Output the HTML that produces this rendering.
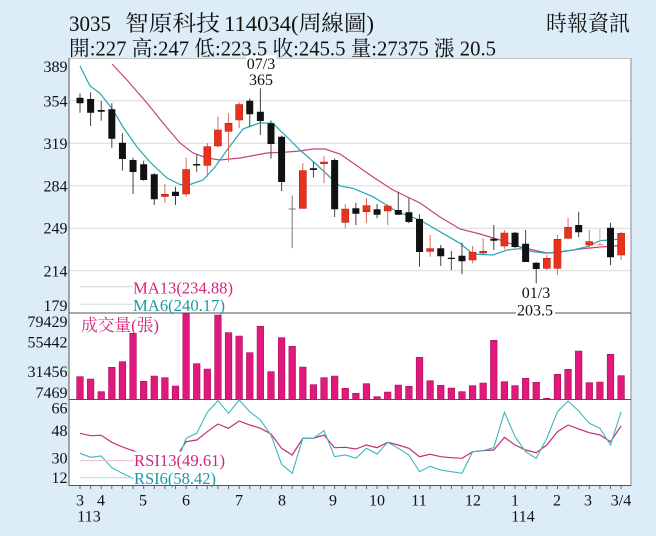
<!DOCTYPE html>
<html><head><meta charset="utf-8"><style>
html,body{margin:0;padding:0;background:#dcedf8;}
svg{display:block;}
text{font-family:"Liberation Serif","Noto Serif CJK TC","Noto Serif CJK SC",serif;}
</style></head><body>
<svg width="656" height="536" viewBox="0 0 656 536" xmlns="http://www.w3.org/2000/svg">
<rect x="0" y="0" width="656" height="536" fill="#dcedf8"/>
<rect x="69" y="58" width="562" height="427.5" fill="#ffffff"/>
<path d="M69 100.7H631M69 143.2H631M69 185.7H631M69 228.2H631M69 270.7H631" stroke="#dadada" fill="none"/>
<path d="M69 58.5H631" stroke="#c8c8c8"/>
<path d="M631 58V486" stroke="#8a8a8a"/>
<path d="M69 313H631M69 399.5H631M69 485.5H631M69 58V486" stroke="#555" fill="none"/>
<path stroke="#666" fill="none" d="M80 486v3M90.6 486v3M101.2 486v3M111.8 486v3M122.4 486v3M133 486v3M143.7 486v3M154.3 486v3M164.9 486v3M175.5 486v3M186.1 486v3M196.7 486v3M207.3 486v3M217.9 486v3M228.5 486v3M239.2 486v3M249.8 486v3M260.4 486v3M271 486v3M281.6 486v3M292.2 486v3M302.8 486v3M313.4 486v3M324 486v3M334.6 486v3M345.3 486v3M355.9 486v3M366.5 486v3M377.1 486v3M387.7 486v3M398.3 486v3M408.9 486v3M419.5 486v3M430.1 486v3M440.7 486v3M451.4 486v3M462 486v3M472.6 486v3M483.2 486v3M493.8 486v3M504.4 486v3M515 486v3M525.6 486v3M536.2 486v3M546.8 486v3M557.5 486v3M568.1 486v3M578.7 486v3M589.3 486v3M599.9 486v3M610.5 486v3M621.1 486v3"/>

<polyline fill="none" stroke="#c8427c" stroke-width="1.2" points="112,64 127,80 147,103 163,123 180,143 193,153 207,158 220,160 240,158 267,153 287,152 300,151 313,149 325,149 340,154 353,163 373,177 393,190 420,203 440,217 460,229 480,234 500,240 520,247 533,250 547,253 560,252 580,249 600,247 621,245.5"/>
<polyline fill="none" stroke="#22a8b0" stroke-width="1.2" points="80,66 90,86 100,93.3 113,110 123,127 137,147 150,162 167,178 180,184.5 190,184.5 203,180 215,167 227,150 243,129 260,122.7 273,123.5 287,137 300,150 317,165 333,180 340,186 353,188.3 373,196.7 397,211.7 420,220 440,231.7 460,243.3 473,254 493,255 507,250 520,248.7 533,251.7 547,253.3 560,251.7 573,250 587,246.7 600,240.7 621,239"/>

<!-- black candle wicks -->
<path stroke="#444" fill="none" d="M80 93.3V112.7M90.61 92.3V126M101.22 101V120.7M111.83 103.3V147.7M122.44 133.3V170.7M133.05 157.7V194M143.66 160.7V180.7M154.27 173.3V205M175.49 186.7V205M196.71 155V171.7M249.76 98.5V127M260.37 88.3V135M270.98 120.5V158.5M281.59 135.5V191M313.42 162V177.5M334.64 158.5V217M355.86 202.7V225M377.08 204V218.3M398.3 191.7V215M408.91 198.3V223.3M419.52 214.3V266.7M440.74 245V266M451.35 251V270M461.96 242.7V274.3M493.79 225V250M515.01 231.7V248.3M525.62 230V262M536.23 262.3V283.3M578.67 211.7V237.3M610.5 222.7V265"/>
<!-- black bodies -->
<path fill="#111" d="M76.5 97.7h7v5.6h-7zM87.11 99h7v13.7h-7zM97.72 110h7v1.7h-7zM108.33 109.3h7v29.4h-7zM118.94 142.7h7v16.3h-7zM129.55 160h7v12h-7zM140.16 164.3h7v15.7h-7zM150.77 174.3h7v25h-7zM171.99 191.7h7v4.3h-7zM193.21 164h7v1.5h-7zM246.26 100.7h7v13.6h-7zM256.87 111.7h7v9.3h-7zM267.48 123.3h7v20.7h-7zM278.09 136.7h7v45.3h-7zM309.92 168.3h7v1.7h-7zM331.14 160h7v49.3h-7zM352.36 208.3h7v5.4h-7zM373.58 209.3h7v5.4h-7zM394.8 210h7v4.7h-7zM405.41 212.3h7v9.7h-7zM416.02 219h7v33h-7zM437.24 248.3h7v8h-7zM447.85 257.7h7v1.3h-7zM458.46 255.7h7v5.6h-7zM490.29 238.7h7v2h-7zM511.51 232.7h7v14.3h-7zM522.12 243.7h7v18.3h-7zM532.73 262.7h7v6.3h-7zM575.17 225h7v7.3h-7zM607 227.7h7v29.6h-7z"/>
<!-- red candle wicks -->
<path stroke="#e06a60" fill="none" d="M164.88 184V203M186.1 157.7V196.7M207.32 143V176.7M217.93 116.7V147.5M228.54 113.3V161.7M239.15 102V128.3M302.81 163.3V208.3M324.03 156.3V183.3M345.25 204V228.3M366.47 198.3V222.7M387.69 204.3V225M430.13 235V256.7M472.57 246V263.3M483.18 238.3V254M504.4 230V249.3M546.84 255V270M557.45 235V275M568.06 217.7V239M589.28 230V249M621.11 231.7V260"/>
<!-- red bodies -->
<path fill="#e8321e" stroke="#b82010" stroke-width="0.6" d="M161.38 194.3h7v2.2h-7zM182.6 169.5h7v24.5h-7zM203.82 146.7h7v18.6h-7zM214.43 130h7v16h-7zM225.04 123.3h7v8h-7zM235.65 104.5h7v15.5h-7zM299.31 170.7h7v37.6h-7zM320.53 162h7v1.7h-7zM341.75 209h7v13.3h-7zM362.97 205.7h7v6h-7zM384.19 206h7v5h-7zM426.63 248.7h7v2.6h-7zM469.07 252.3h7v7.7h-7zM479.68 251.3h7v1.7h-7zM500.9 233h7v13h-7zM543.34 258.3h7v10h-7zM553.95 239.3h7v29h-7zM564.56 227.3h7v11h-7zM585.78 241.7h7v3.3h-7zM617.61 233.3h7v21.7h-7z"/>
<!-- doji crosses -->
<path stroke="#777" fill="none" d="M292.2 195.5V248.3M288.7 209H295.7"/>
<path stroke="#e8a0a0" fill="none" d="M599.89 229V249M596.39 244.5H603.39"/>

<!-- volume bars -->
<path fill="#e2197c" stroke="#a8125a" stroke-width="0.6" d="M76.7 376.7h6.6V399.5h-6.6zM87.31 379h6.6V399.5h-6.6zM97.92 391.7h6.6V399.5h-6.6zM108.53 367.3h6.6V399.5h-6.6zM119.14 361.7h6.6V399.5h-6.6zM129.75 333.3h6.6V399.5h-6.6zM140.36 381.3h6.6V399.5h-6.6zM150.97 376h6.6V399.5h-6.6zM161.58 377.7h6.6V399.5h-6.6zM172.19 386h6.6V399.5h-6.6zM182.8 313.7h6.6V399.5h-6.6zM193.41 363.7h6.6V399.5h-6.6zM204.02 369h6.6V399.5h-6.6zM214.63 315h6.6V399.5h-6.6zM225.24 332.7h6.6V399.5h-6.6zM235.85 336h6.6V399.5h-6.6zM246.46 352.7h6.6V399.5h-6.6zM257.07 326.3h6.6V399.5h-6.6zM267.68 371.7h6.6V399.5h-6.6zM278.29 337.7h6.6V399.5h-6.6zM288.9 346.3h6.6V399.5h-6.6zM299.51 367h6.6V399.5h-6.6zM310.12 384.7h6.6V399.5h-6.6zM320.73 377.7h6.6V399.5h-6.6zM331.34 376h6.6V399.5h-6.6zM341.95 388.3h6.6V399.5h-6.6zM352.56 393.3h6.6V399.5h-6.6zM363.17 383.7h6.6V399.5h-6.6zM373.78 396.7h6.6V399.5h-6.6zM384.39 392h6.6V399.5h-6.6zM395 385h6.6V399.5h-6.6zM405.61 386.3h6.6V399.5h-6.6zM416.22 357.3h6.6V399.5h-6.6zM426.83 380.7h6.6V399.5h-6.6zM437.44 385.3h6.6V399.5h-6.6zM448.05 388h6.6V399.5h-6.6zM458.66 391.7h6.6V399.5h-6.6zM469.27 385.7h6.6V399.5h-6.6zM479.88 383h6.6V399.5h-6.6zM490.49 340.3h6.6V399.5h-6.6zM501.1 381.7h6.6V399.5h-6.6zM511.71 385.7h6.6V399.5h-6.6zM522.32 378.3h6.6V399.5h-6.6zM532.93 382.3h6.6V399.5h-6.6zM543.54 398.3h6.6V399.5h-6.6zM554.15 374.3h6.6V399.5h-6.6zM564.76 369.3h6.6V399.5h-6.6zM575.37 351h6.6V399.5h-6.6zM585.98 382.7h6.6V399.5h-6.6zM596.59 382h6.6V399.5h-6.6zM607.2 354.3h6.6V399.5h-6.6zM617.81 375.7h6.6V399.5h-6.6z"/>

<!-- RSI -->
<polyline fill="none" stroke="#c82e72" stroke-width="1.2" points="80,433.3 90.6,435.7 101.2,435.3 111.8,442.3 122.4,447 133,450.7 143.7,454 154.3,457 164.9,458 175.5,458 186.1,441.7 196.7,440 207.3,431.7 217.9,424 228.5,428.3 239.2,421 249.8,425 260.4,428.3 271,434 281.6,448.3 292.2,455 302.8,438.3 313.4,438.3 324,435 334.6,447.7 345.3,447.3 355.9,449 366.5,445 377.1,447.7 387.7,442.3 398.3,445 408.9,448.3 419.5,456.7 430.1,454.3 440.7,456.7 451.4,457.7 462,458.3 472.6,451.7 483.2,450.7 493.8,450 504.4,437.3 515,445 525.6,450 536.2,452.7 546.8,445 557.5,431.7 568.1,425 578.7,429 589.3,432.7 599.9,435 610.5,441.7 621.1,426"/>
<polyline fill="none" stroke="#3cb6be" stroke-width="1.1" points="80,453.3 90.6,457.3 101.2,456 111.8,467.7 122.4,473.3 133,478.3 143.7,480 154.3,481 164.9,478 175.5,466 186.1,438.3 196.7,433.3 207.3,412.3 217.9,400.7 228.5,413.3 239.2,400 249.8,411.7 260.4,420 271,435 281.6,464.3 292.2,473.3 302.8,438.3 313.4,438.3 324,430.7 334.6,456.7 345.3,455 355.9,458.3 366.5,448.3 377.1,454 387.7,442.3 398.3,448.3 408.9,455 419.5,471.7 430.1,466.3 440.7,470 451.4,471.7 462,473.3 472.6,451.7 483.2,450.7 493.8,447.7 504.4,412.3 515,436.7 525.6,451.7 536.2,458.3 546.8,438.3 557.5,411.7 568.1,401 578.7,411 589.3,423.3 599.9,428.3 610.5,445 621.1,411.7"/>

<!-- legends -->
<rect x="133" y="279" width="104" height="33" fill="#fff"/>
<rect x="133.5" y="451.5" width="96" height="33.5" fill="#fff"/>
<path d="M80 286.7H133" stroke="#d8d0d8"/>
<path d="M80 304.3H133" stroke="#cfe0e2"/>
<path d="M80 460.6H134" stroke="#ecbcd0"/>
<path d="M80 477.7H134" stroke="#b4dcdf"/>
<text x="133" y="293.3" font-size="17" fill="#d4267a" textLength="100" lengthAdjust="spacingAndGlyphs">MA13(234.88)</text>
<text x="133" y="311" font-size="17" fill="#1b9aa6" textLength="92" lengthAdjust="spacingAndGlyphs">MA6(240.17)</text>
<text x="134" y="466" font-size="17" fill="#d4267a" textLength="91" lengthAdjust="spacingAndGlyphs">RSI13(49.61)</text>
<text x="134" y="484" font-size="17" fill="#1b9aa6" textLength="82" lengthAdjust="spacingAndGlyphs">RSI6(58.42)</text>
<text x="81" y="331" font-size="17" fill="#d4267a" textLength="78" lengthAdjust="spacingAndGlyphs">成交量(張)</text>

<!-- annotations -->
<rect x="246" y="55" width="30" height="4" fill="#fff"/>
<text x="261" y="69" font-size="16" fill="#111" text-anchor="middle">07/3</text>
<text x="261" y="85" font-size="16" fill="#111" text-anchor="middle">365</text>
<text x="536" y="298" font-size="16" fill="#111" text-anchor="middle">01/3</text>
<rect x="516" y="303" width="39" height="13" fill="#fff"/>
<text x="535" y="315.5" font-size="16" fill="#111" text-anchor="middle">203.5</text>

<!-- left axis labels -->
<g font-size="16" fill="#111" text-anchor="end">
<text x="67.5" y="72">389</text>
<text x="67.5" y="106.5">354</text>
<text x="67.5" y="149">319</text>
<text x="67.5" y="191.5">284</text>
<text x="67.5" y="233.5">249</text>
<text x="67.5" y="276.5">214</text>
<text x="67.5" y="311">179</text>
<text x="67.5" y="327">79429</text>
<text x="67.5" y="347.5">55442</text>
<text x="67.5" y="377">31456</text>
<text x="67.5" y="398">7469</text>
<text x="67.5" y="413.5">66</text>
<text x="67.5" y="436">48</text>
<text x="67.5" y="463.5">30</text>
<text x="67.5" y="483">12</text>
</g>

<!-- x labels -->
<g font-size="16" fill="#111" text-anchor="middle">
<text x="80" y="505.5">3</text>
<text x="101" y="505.5">4</text>
<text x="143" y="505.5">5</text>
<text x="186" y="505.5">6</text>
<text x="239" y="505.5">7</text>
<text x="282" y="505.5">8</text>
<text x="333" y="505.5">9</text>
<text x="377" y="505.5">10</text>
<text x="419" y="505.5">11</text>
<text x="473" y="505.5">12</text>
<text x="515" y="505.5">1</text>
<text x="557" y="505.5">2</text>
<text x="588" y="505.5">3</text>
<text x="621" y="505.5">3/4</text>
<text x="89" y="521.5">113</text>
<text x="523" y="521.5">114</text>
</g>

<!-- header -->
<text x="69" y="31" font-size="22" fill="#111" textLength="42" lengthAdjust="spacingAndGlyphs">3035</text>
<text x="125" y="31" font-size="22" fill="#111" textLength="95" lengthAdjust="spacingAndGlyphs">智原科技</text>
<text x="224" y="31" font-size="22" fill="#111" textLength="150" lengthAdjust="spacingAndGlyphs">114034(周線圖)</text>
<text x="546" y="31" font-size="22" fill="#111" textLength="84" lengthAdjust="spacingAndGlyphs">時報資訊</text>
<text x="69" y="55.5" font-size="21" fill="#111" textLength="427" lengthAdjust="spacingAndGlyphs">開:227 高:247 低:223.5 收:245.5 量:27375 漲 20.5</text>
</svg>
</body></html>
